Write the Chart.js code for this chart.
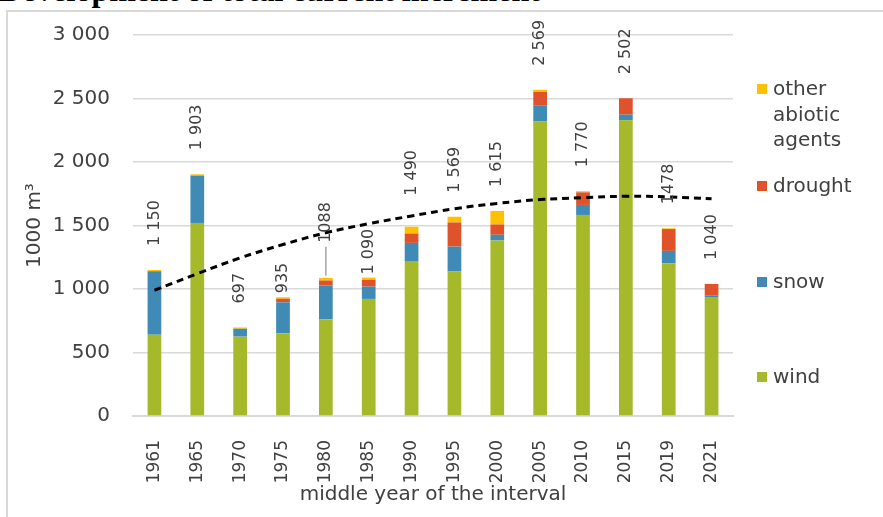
<!DOCTYPE html>
<html>
<head>
<meta charset="utf-8">
<script src="https://cdn.jsdelivr.net/npm/chart.js@4.4.1/dist/chart.umd.min.js"></script>
<style>
    body { margin: 0; background: #fff; overflow: hidden; }
    #wrap { position: relative; width: 883px; height: 517px; overflow: hidden; }
    #heading {
        position: absolute; left: -1px; top: -28px; line-height: 36px;
        font: bold 32px "Liberation Serif", serif; color: #000; white-space: nowrap;
    }
    #frame {
        position: absolute; left: 6px; top: 10px; width: 900px; height: 520px;
        border-left: 2px solid #d9d9d9; border-top: 2px solid #d9d9d9;
    }
    canvas { position: absolute; left: 0; top: 0; }
</style>
</head>
<body>
<div id="wrap">
    <div id="heading">Development of total current increment</div>
    <div id="frame"></div>
    <canvas id="myChart" width="883" height="517"></canvas>
</div>
<script>
const years = ['1961', '1965', '1970', '1975', '1980', '1985', '1990', '1995', '2000', '2005', '2010', '2015', '2019', '2021'];

// damage by cause, 1000 m3
const wind    = [640, 1520, 625, 650, 762, 922, 1220, 1139, 1382, 2320, 1583, 2328, 1203, 937];
const snow    = [500, 373, 62, 245, 265, 97, 143, 195, 45, 127, 79, 45, 97, 10];
const drought = [0, 0, 0, 28, 40, 53, 74, 190, 81, 105, 99, 129, 172, 93];
const other   = [10, 10, 10, 12, 21, 18, 53, 45, 107, 17, 9, 0, 6, 0];

const totalLabels = ['1 150', '1 903', '697', '935', '1088', '1 090', '1 490', '1 569', '1 615', '2 569', '1 770', '2 502', '1478', '1 040'];
const trend = [990, 1120, 1245, 1350, 1443, 1514, 1575, 1632, 1674, 1704, 1719, 1730, 1725, 1711];

const yTicks = [0, 500, 1000, 1500, 2000, 2500, 3000];

const textColor = '#404040';
const fontFamily = '"DejaVu Sans", sans-serif';

function spaced(v) {
    return String(v).replace(/\B(?=(\d{3})+(?!\d))/g, ' ');
}

// totals written above every stack
const totalsPlugin = {
    id: 'totals',
    afterDatasetsDraw(chart) {
        const ctx = chart.ctx;
        const meta = chart.getDatasetMeta(4);
        const gaps = { 3: 4, 4: 35, 5: 3, 6: 31 };
        ctx.save();
        ctx.font = '16px ' + fontFamily;
        ctx.fillStyle = textColor;
        ctx.textAlign = 'left';
        ctx.textBaseline = 'middle';
        meta.data.forEach((bar, i) => {
            const gap = gaps[i] !== undefined ? gaps[i] : 24;
            if (i === 4) {
                ctx.strokeStyle = '#a6a6a6';
                ctx.lineWidth = 1.5;
                ctx.beginPath();
                ctx.moveTo(bar.x, bar.y - 2);
                ctx.lineTo(bar.x, bar.y - gap + 4);
                ctx.stroke();
            }
            ctx.save();
            ctx.translate(bar.x, bar.y - gap);
            ctx.rotate(-Math.PI / 2);
            ctx.fillText(totalLabels[i], 0, 0);
            ctx.restore();
        });
        ctx.restore();
    }
};

// legend on the right, entries spread down the side
const sideLegend = {
    id: 'sideLegend',
    afterDraw(chart) {
        const ctx = chart.ctx;
        const rows = { 4: 95, 3: 192, 2: 288, 1: 383 };
        ctx.save();
        ctx.font = '20px ' + fontFamily;
        ctx.textBaseline = 'alphabetic';
        ctx.textAlign = 'left';
        Object.keys(rows).forEach(k => {
            const ds = chart.data.datasets[k];
            const base = rows[k];
            ctx.fillStyle = ds.backgroundColor;
            ctx.fillRect(757, base - 11, 10, 10);
            ctx.fillStyle = textColor;
            const words = ds.label.split(' ');
            words.forEach((w, j) => ctx.fillText(w, 773, base + j * 25.5));
        });
        ctx.restore();
    }
};

const bar = (label, data, color) => ({
    type: 'bar',
    label: label,
    data: data,
    backgroundColor: color,
    stack: 'damage',
    order: 1,
    barPercentage: 0.32,
    categoryPercentage: 1
});

new Chart(document.getElementById('myChart'), {
    data: {
        labels: years,
        datasets: [
            {
                type: 'line',
                label: 'trend',
                data: trend,
                stack: 'trend',
                order: 0,
                borderColor: '#000',
                borderWidth: 3,
                borderDash: [7, 5],
                pointRadius: 0,
                tension: 0.4,
                fill: false
            },
            bar('wind', wind, '#a5b92b'),
            bar('snow', snow, '#408bb6'),
            bar('drought', drought, '#e0532a'),
            bar('other abiotic agents', other, '#ffc000')
        ]
    },
    options: {
        responsive: false,
        animation: false,
        layout: { padding: { left: 21, top: 35, right: 150, bottom: 6 } },
        plugins: {
            legend: { display: false },
            tooltip: { enabled: false }
        },
        scales: {
            x: {
                stacked: true,
                grid: { display: false },
                border: { color: '#d9d9d9', width: 2 },
                ticks: {
                    color: textColor,
                    font: { family: fontFamily, size: 17 },
                    minRotation: 90,
                    maxRotation: 90,
                    padding: 16
                },
                title: {
                    display: true,
                    text: 'middle year of the interval',
                    color: textColor,
                    font: { family: fontFamily, size: 20 },
                    padding: { top: 4, bottom: 4 }
                },
                afterFit(scale) { scale.height = 95; }
            },
            y: {
                stacked: true,
                min: 0,
                max: 3000,
                afterBuildTicks(scale) { scale.ticks = yTicks.map(v => ({ value: v })); },
                grid: { color: '#d9d9d9', lineWidth: 1.5, drawTicks: false },
                border: { display: false },
                ticks: {
                    color: textColor,
                    font: { family: fontFamily, size: 20 },
                    padding: 23,
                    callback: v => spaced(v)
                },
                title: {
                    display: true,
                    text: '1000 m³',
                    color: textColor,
                    font: { family: fontFamily, size: 20 },
                    padding: { top: 2, bottom: 2 }
                },
                afterFit(scale) { scale.width = 112; }
            }
        }
    },
    plugins: [totalsPlugin, sideLegend]
});
</script>
</body>
</html>
